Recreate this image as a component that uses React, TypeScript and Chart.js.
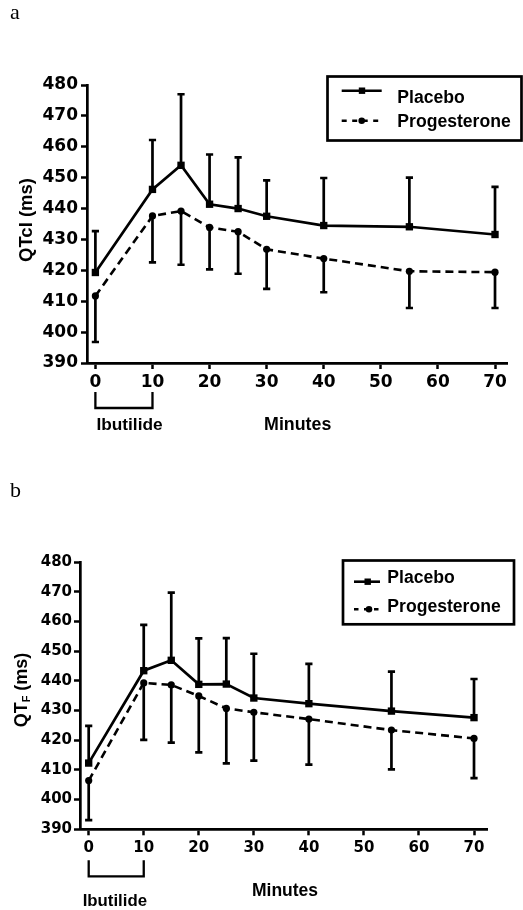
import React, { useEffect, useRef } from 'react';
import { Chart, registerables } from 'chart.js';

Chart.register(...registerables);

// ---------- data ----------
const minutes = [0, 10, 15, 20, 25, 30, 40, 55, 70];
const xTicks = [0, 10, 20, 30, 40, 50, 60, 70];
const yTicks = [390, 400, 410, 420, 430, 440, 450, 460, 470, 480];
const seriesNames = ['Placebo', 'Progesterone'];

// panel a: QTcI
const qtciPlacebo = [419.3, 446.2, 454.0, 441.4, 440.0, 437.5, 434.5, 434.1, 431.6];
const qtciPlaceboSD = [13.4, 16.0, 23.0, 16.1, 16.6, 11.6, 15.4, 15.9, 15.4];
const qtciProg = [411.7, 437.6, 439.2, 433.9, 432.5, 426.8, 423.8, 419.7, 419.4];
const qtciProgSD = [14.9, 15.0, 17.4, 13.6, 13.6, 12.8, 10.9, 11.9, 11.6];

// panel b: QTF
const qtfPlacebo = [412.3, 443.4, 446.9, 438.8, 438.9, 434.2, 432.3, 429.8, 427.6];
const qtfPlaceboSD = [12.5, 15.4, 22.8, 15.5, 15.5, 14.9, 13.4, 13.3, 13.0];
const qtfProg = [406.4, 439.3, 438.6, 434.9, 430.7, 429.4, 427.1, 423.4, 420.6];
const qtfProgSD = [13.3, 19.2, 19.4, 19.0, 18.5, 16.3, 15.3, 13.2, 13.4];

const TICK_FONT = '"DejaVu Sans", sans-serif';
const FONT = '"Liberation Sans", Arial, sans-serif';

type Panel = {
  letter: string;
  placebo: number[];
  placeboSD: number[];
  prog: number[];
  progSD: number[];
  height: number;
  top: number;
  right: number;
  yWidth: number;
  xHeight: number;
  xMin: number;
  xMax: number;
  tickSize: number;
  yPad: number;
  xPad: number;
  letterY: number;
  titleMain: string;
  titleSub: string;
  titleRest: string;
  titleSize: number;
  titleX: number;
  titleY: number;
  box: { x0: number; y0: number; x1: number; y1: number };
  legendFont: number;
  leg1: { lx0: number; lx1: number; ly: number; mx: number; tx: number; ty: number };
  leg2: { lx0: number; lx1: number; ly: number; mx: number; tx: number; ty: number; dash: number[] };
  bracketTop: number;
  bracketBottom: number;
  ibutSize: number;
  minutesSize: number;
  ibutX: number;
  ibutY: number;
  minutesX: number;
  minutesY: number;
};

const panels: Panel[] = [
  {
    letter: 'a',
    placebo: qtciPlacebo,
    placeboSD: qtciPlaceboSD,
    prog: qtciProg,
    progSD: qtciProgSD,
    height: 450,
    top: 85,
    right: 16,
    yWidth: 87,
    xHeight: 87,
    xMin: -1.47,
    xMax: 72.1,
    tickSize: 17,
    yPad: 3,
    xPad: 3,
    letterY: 19,
    titleMain: 'QTcI (ms)',
    titleSub: '',
    titleRest: '',
    titleSize: 18.5,
    titleX: 26.7,
    titleY: 220,
    box: { x0: 327.5, y0: 76.5, x1: 521.5, y1: 140.5 },
    legendFont: 17.6,
    leg1: { lx0: 341.7, lx1: 381.7, ly: 90.7, mx: 362, tx: 397.3, ty: 102.7 },
    leg2: { lx0: 341.7, lx1: 380, ly: 120.7, mx: 361.7, tx: 397.3, ty: 126.5, dash: [5, 5.5] },
    bracketTop: 29,
    bracketBottom: 45,
    ibutSize: 17.3,
    minutesSize: 17.8,
    ibutX: 1,
    ibutY: 430,
    minutesX: 297.7,
    minutesY: 430,
  },
  {
    letter: 'b',
    placebo: qtfPlacebo,
    placeboSD: qtfPlaceboSD,
    prog: qtfProg,
    progSD: qtfProgSD,
    height: 460,
    top: 112,
    right: 36,
    yWidth: 80,
    xHeight: 80.7,
    xMin: -1.58,
    xMax: 72.36,
    tickSize: 15,
    yPad: 2,
    xPad: 4,
    letterY: 47,
    titleMain: 'QT',
    titleSub: 'F',
    titleRest: ' (ms)',
    titleSize: 18,
    titleX: 22,
    titleY: 240,
    box: { x0: 343, y0: 110.5, x1: 514, y1: 174.3 },
    legendFont: 17.6,
    leg1: { lx0: 354, lx1: 380, ly: 131.7, mx: 367.7, tx: 387.3, ty: 132.7 },
    leg2: { lx0: 354, lx1: 380.7, ly: 159.3, mx: 369, tx: 387.3, ty: 161.7, dash: [4.5, 5.5] },
    bracketTop: 31,
    bracketBottom: 47,
    ibutSize: 16.8,
    minutesSize: 17.5,
    ibutX: -6,
    ibutY: 456,
    minutesX: 285,
    minutesY: 445.5,
  },
];

function buildChart(canvas: HTMLCanvasElement, p: Panel) {
  const decor = {
    id: 'decor',
    beforeDatasetsDraw(chart: any) {
      const ctx = chart.ctx as CanvasRenderingContext2D;
      const xs = chart.scales.x;
      const ys = chart.scales.y;
      ctx.save();
      ctx.strokeStyle = '#000';
      ctx.lineWidth = 2.7;
      const cap = 3.6;
      minutes.forEach((m, i) => {
        const x = xs.getPixelForValue(m);
        // placebo: upward bars
        const y0 = ys.getPixelForValue(p.placebo[i]);
        const y1 = ys.getPixelForValue(p.placebo[i] + p.placeboSD[i]);
        ctx.beginPath();
        ctx.moveTo(x, y0);
        ctx.lineTo(x, y1);
        ctx.moveTo(x - cap, y1);
        ctx.lineTo(x + cap, y1);
        ctx.stroke();
        // progesterone: downward bars
        const z0 = ys.getPixelForValue(p.prog[i]);
        const z1 = ys.getPixelForValue(p.prog[i] - p.progSD[i]);
        ctx.beginPath();
        ctx.moveTo(x, z0);
        ctx.lineTo(x, z1);
        ctx.moveTo(x - cap, z1);
        ctx.lineTo(x + cap, z1);
        ctx.stroke();
      });
      ctx.restore();
    },
    afterDraw(chart: any) {
      const ctx = chart.ctx as CanvasRenderingContext2D;
      const xs = chart.scales.x;
      const bottom = chart.chartArea.bottom;
      ctx.save();
      ctx.fillStyle = '#000';
      ctx.strokeStyle = '#000';

      // panel letter
      ctx.font = '22px "Liberation Serif", serif';
      ctx.textBaseline = 'alphabetic';
      ctx.textAlign = 'left';
      ctx.fillText(p.letter, 10, p.letterY);

      // y title
      ctx.save();
      ctx.translate(p.titleX, p.titleY);
      ctx.rotate(-Math.PI / 2);
      ctx.textBaseline = 'middle';
      const mainFont = `bold ${p.titleSize}px ${FONT}`;
      const subFont = `bold ${Math.round(p.titleSize * 0.62)}px ${FONT}`;
      ctx.font = mainFont;
      const wMain = ctx.measureText(p.titleMain).width;
      const wRest = ctx.measureText(p.titleRest).width;
      ctx.font = subFont;
      const wSub = p.titleSub ? ctx.measureText(p.titleSub).width : 0;
      let cx = -(wMain + wSub + wRest) / 2;
      ctx.textAlign = 'left';
      ctx.font = mainFont;
      ctx.fillText(p.titleMain, cx, 0);
      cx += wMain;
      if (p.titleSub) {
        ctx.font = subFont;
        ctx.fillText(p.titleSub, cx, p.titleSize * 0.3);
        cx += wSub;
      }
      ctx.font = mainFont;
      ctx.fillText(p.titleRest, cx, 0);
      ctx.restore();

      // legend box
      ctx.lineWidth = 2.7;
      ctx.strokeRect(p.box.x0, p.box.y0, p.box.x1 - p.box.x0, p.box.y1 - p.box.y0);
      // placebo sample
      ctx.lineWidth = 2.6;
      ctx.setLineDash([]);
      ctx.beginPath();
      ctx.moveTo(p.leg1.lx0, p.leg1.ly);
      ctx.lineTo(p.leg1.lx1, p.leg1.ly);
      ctx.stroke();
      ctx.fillRect(p.leg1.mx - 3.2, p.leg1.ly - 3.2, 6.4, 6.4);
      // progesterone sample
      ctx.setLineDash(p.leg2.dash);
      ctx.beginPath();
      ctx.moveTo(p.leg2.lx0, p.leg2.ly);
      ctx.lineTo(p.leg2.lx1, p.leg2.ly);
      ctx.stroke();
      ctx.setLineDash([]);
      ctx.beginPath();
      ctx.arc(p.leg2.mx, p.leg2.ly, 3.3, 0, Math.PI * 2);
      ctx.fill();
      ctx.font = `bold ${p.legendFont}px ${FONT}`;
      ctx.textBaseline = 'alphabetic';
      ctx.textAlign = 'left';
      ctx.fillText(seriesNames[0], p.leg1.tx, p.leg1.ty);
      ctx.fillText(seriesNames[1], p.leg2.tx, p.leg2.ty);

      // Ibutilide bracket
      const bx0 = xs.getPixelForValue(xTicks[0]);
      const bx1 = xs.getPixelForValue(xTicks[1]);
      ctx.lineWidth = 2.3;
      ctx.beginPath();
      ctx.moveTo(bx0, bottom + p.bracketTop);
      ctx.lineTo(bx0, bottom + p.bracketBottom);
      ctx.lineTo(bx1, bottom + p.bracketBottom);
      ctx.lineTo(bx1, bottom + p.bracketTop);
      ctx.stroke();

      ctx.font = `bold ${p.ibutSize}px ${FONT}`;
      ctx.textAlign = 'left';
      ctx.fillText('Ibutilide', bx0 + p.ibutX, p.ibutY);
      ctx.font = `bold ${p.minutesSize}px ${FONT}`;
      ctx.textAlign = 'center';
      ctx.fillText('Minutes', p.minutesX, p.minutesY);
      ctx.restore();
    },
  };

  const tickFont = { family: TICK_FONT, weight: 'bold' as const, size: p.tickSize };

  return new Chart(canvas, {
    type: 'line',
    data: {
      datasets: [
        {
          label: seriesNames[0],
          data: minutes.map((m, i) => ({ x: m, y: p.placebo[i] })),
          borderColor: '#000',
          borderWidth: 2.7,
          pointStyle: 'rect',
          pointRadius: 5.2,
          pointBackgroundColor: '#000',
          pointBorderColor: '#000',
          pointBorderWidth: 0,
          tension: 0,
          clip: false as any,
        },
        {
          label: seriesNames[1],
          data: minutes.map((m, i) => ({ x: m, y: p.prog[i] })),
          borderColor: '#000',
          borderWidth: 2.6,
          borderDash: [8, 5],
          pointStyle: 'circle',
          pointRadius: 3.6,
          pointBackgroundColor: '#000',
          pointBorderColor: '#000',
          pointBorderWidth: 0,
          tension: 0,
          clip: false as any,
        },
      ],
    },
    options: {
      responsive: false,
      animation: false,
      events: [],
      layout: { padding: { top: p.top, right: p.right, left: 0, bottom: 0 } },
      plugins: {
        legend: { display: false },
        tooltip: { enabled: false },
        title: { display: false },
      },
      scales: {
        x: {
          type: 'linear',
          min: p.xMin,
          max: p.xMax,
          afterBuildTicks: (s: any) => {
            s.ticks = xTicks.map((v) => ({ value: v }));
          },
          afterFit: (s: any) => {
            s.height = p.xHeight;
          },
          grid: {
            drawOnChartArea: false,
            drawTicks: true,
            tickLength: 6,
            tickWidth: 2.5,
            tickColor: '#000',
          },
          border: { display: true, color: '#000', width: 2.7 },
          ticks: {
            color: '#000',
            font: tickFont,
            padding: p.xPad,
            maxRotation: 0,
            autoSkip: false,
          },
        },
        y: {
          type: 'linear',
          min: yTicks[0],
          max: yTicks[yTicks.length - 1],
          afterBuildTicks: (s: any) => {
            s.ticks = yTicks.map((v) => ({ value: v }));
          },
          afterFit: (s: any) => {
            s.width = p.yWidth;
          },
          grid: {
            drawOnChartArea: false,
            drawTicks: true,
            tickLength: 6,
            tickWidth: 2.5,
            tickColor: '#000',
          },
          border: { display: true, color: '#000', width: 2.7 },
          ticks: {
            color: '#000',
            font: tickFont,
            padding: p.yPad,
            autoSkip: false,
          },
        },
      },
    },
    plugins: [decor],
  } as any);
}

function PanelChart({ p, top }: { p: Panel; top: number }) {
  const ref = useRef<HTMLCanvasElement | null>(null);
  useEffect(() => {
    if (!ref.current) return;
    const chart = buildChart(ref.current, p);
    return () => chart.destroy();
  }, [p]);
  return (
    <canvas
      ref={ref}
      width={523}
      height={p.height}
      style={{ position: 'absolute', left: 0, top, width: 523, height: p.height, display: 'block' }}
    />
  );
}

export default function App() {
  return (
    <div style={{ position: 'absolute', left: 0, top: 0, width: 523, height: 910, background: '#fff' }}>
      <PanelChart p={panels[0]} top={0} />
      <PanelChart p={panels[1]} top={450} />
    </div>
  );
}
